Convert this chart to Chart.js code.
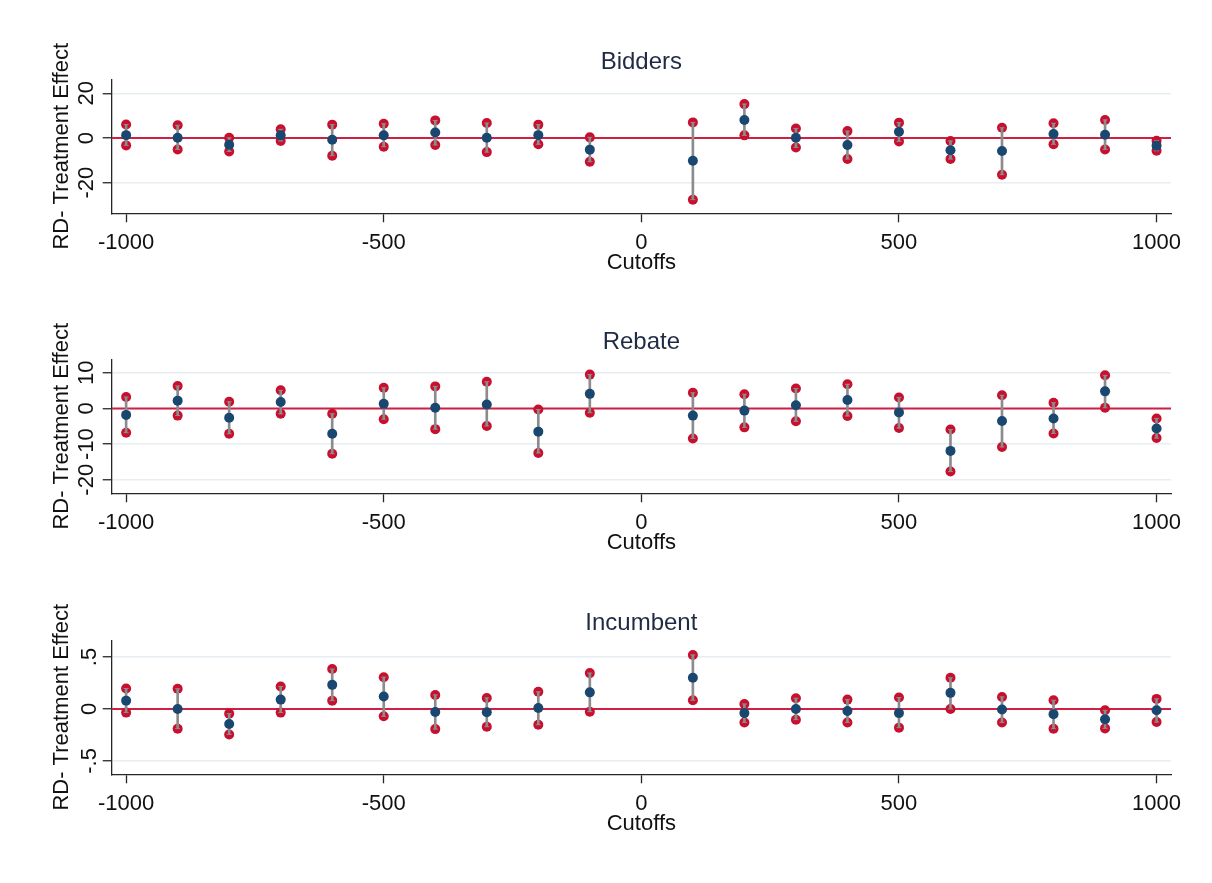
<!DOCTYPE html>
<html>
<head>
<meta charset="utf-8">
<script src="https://cdn.jsdelivr.net/npm/chart.js@4.4.0/dist/chart.umd.min.js"></script>
<style>
html, body { margin: 0; padding: 0; background: #fff; }
.panel { position: absolute; left: 0; width: 1212px; height: 280px; }
</style>
</head>
<body>
<div class="panel" style="top:0px"><canvas id="bidders" width="1212" height="280"></canvas></div>
<div class="panel" style="top:280px"><canvas id="rebate" width="1212" height="280"></canvas></div>
<div class="panel" style="top:561px"><canvas id="incumbent" width="1212" height="280"></canvas></div>
<script>
const cutoffs = [-1000, -900, -800, -700, -600, -500, -400, -300, -200, -100,
	100, 200, 300, 400, 500, 600, 700, 800, 900, 1000];
const xTicks = [-1000, -500, 0, 500, 1000];
const xTickLabels = ['-1000', '-500', '0', '500', '1000'];

// Bidders
const biddersEst = [1.3, 0.1, -3.0, 1.2, -0.8, 1.2, 2.5, 0.1, 1.3, -5.2,
	-10.2, 8.1, 0.1, -3.1, 2.8, -5.5, -5.8, 1.8, 1.5, -3.4];
const biddersLo = [-3.3, -5.1, -6.0, -1.3, -7.9, -3.9, -3.1, -6.3, -2.8, -10.6,
	-27.6, 1.2, -4.2, -9.4, -1.5, -9.4, -16.4, -2.8, -5.1, -5.7];
const biddersHi = [6.1, 5.7, 0.1, 3.9, 6.0, 6.4, 7.9, 6.7, 6.0, 0.3,
	7.0, 15.2, 4.3, 3.1, 6.9, -1.3, 4.6, 6.6, 8.1, -1.2];
const biddersTicks = [-20, 0, 20];
const biddersTickLabels = ['-20', '0', '20'];

// Rebate
const rebateEst = [-1.8, 2.2, -2.6, 1.8, -7.1, 1.3, 0.2, 1.1, -6.5, 4.1,
	-2.0, -0.6, 0.9, 2.4, -1.1, -11.9, -3.5, -2.8, 4.8, -5.6];
const rebateLo = [-6.8, -2.0, -7.1, -1.5, -12.7, -3.0, -5.8, -4.9, -12.5, -1.2,
	-8.4, -5.3, -3.6, -2.1, -5.5, -17.7, -10.8, -7.0, 0.2, -8.3];
const rebateHi = [3.2, 6.3, 1.9, 5.1, -1.5, 5.8, 6.2, 7.5, -0.3, 9.5,
	4.4, 4.0, 5.6, 6.8, 3.1, -5.9, 3.7, 1.6, 9.3, -2.8];
const rebateTicks = [-20, -10, 0, 10];
const rebateTickLabels = ['-20', '-10', '0', '10'];

// Incumbent
const incumbentEst = [0.08, 0.0, -0.145, 0.09, 0.232, 0.12, -0.03, -0.032, 0.01, 0.16,
	0.30, -0.04, 0.0, -0.02, -0.04, 0.155, -0.006, -0.05, -0.10, -0.013];
const incumbentLo = [-0.035, -0.19, -0.245, -0.035, 0.08, -0.071, -0.194, -0.171, -0.152, -0.026,
	0.084, -0.13, -0.103, -0.13, -0.18, 0.0, -0.13, -0.19, -0.187, -0.126];
const incumbentHi = [0.197, 0.194, -0.045, 0.216, 0.384, 0.306, 0.135, 0.106, 0.165, 0.345,
	0.52, 0.048, 0.103, 0.09, 0.11, 0.30, 0.116, 0.084, -0.013, 0.097];
const incumbentTicks = [-0.5, 0, 0.5];
const incumbentTickLabels = ['-.5', '0', '.5'];

const red = '#c8102e';
const navy = '#1a476f';
const gray = '#8c8c8c';
const axisColor = '#262626';
const gridColor = '#e6eef2';

Chart.defaults.font.family = '"Liberation Sans", Arial, sans-serif';

// horizontal reference line at zero, across the plot region
const zeroLine = {
	id: 'zeroLine',
	beforeDatasetsDraw( chart ) {
		const { ctx, chartArea, scales } = chart;
		const py = scales.y.getPixelForValue( 0 );
		ctx.save();
		ctx.strokeStyle = '#cf1f45';
		ctx.lineWidth = 2;
		ctx.beginPath();
		ctx.moveTo( chartArea.left, py );
		ctx.lineTo( chartArea.right, py );
		ctx.stroke();
		ctx.restore();
	},
};

function makePanel( id, title, est, lo, hi, yMin, yMax, yTicks, yTickLabels ) {
	const pts = ( vals ) => cutoffs.map( ( c, i ) => ( { x: c, y: vals[ i ] } ) );
	const ends = pts( lo ).concat( pts( hi ) );

	return new Chart( document.getElementById( id ), {
		type: 'scatter',
		data: {
			datasets: [
				{
					type: 'bar',
					data: cutoffs.map( ( c, i ) => ( { x: c, y: [ lo[ i ], hi[ i ] ] } ) ),
					backgroundColor: gray,
					barThickness: 2,
					order: 1,
				},
				{
					data: ends,
					pointRadius: 5,
					pointBackgroundColor: red,
					pointBorderWidth: 0,
					order: 2,
				},
				{
					data: ends,
					pointStyle: 'line',
					pointRadius: 2.5,
					pointBorderColor: gray,
					pointBorderWidth: 1,
					order: 1,
				},
				{
					data: pts( est ),
					pointRadius: 5,
					pointBackgroundColor: navy,
					pointBorderWidth: 0,
					order: 0,
				},
			],
		},
		options: {
			responsive: false,
			animation: false,
			layout: { padding: { left: 49, right: 41, top: 0, bottom: 0 } },
			plugins: {
				legend: { display: false },
				tooltip: { enabled: false },
				title: {
					display: true,
					fullSize: false,
					text: title,
					color: '#1f2b45',
					font: { size: 24, weight: 'normal' },
					padding: { top: 48, bottom: 2.5 },
				},
			},
			scales: {
				x: {
					type: 'linear',
					min: -1028,
					max: 1028,
					offset: false,
					afterBuildTicks: ( s ) => {
						s.ticks = xTicks.map( ( v ) => ( { value: v } ) );
					},
					afterFit: ( s ) => {
						s.height = 66.7;
					},
					grid: {
						offset: false,
						drawOnChartArea: false,
						tickLength: 9,
						tickColor: axisColor,
						tickWidth: 1.3,
					},
					border: { display: true, color: axisColor, width: 1.3 },
					ticks: {
						color: '#111',
						font: { size: 22 },
						padding: 7,
						maxRotation: 0,
						callback: ( v, i ) => xTickLabels[ i ],
					},
					title: {
						display: true,
						text: 'Cutoffs',
						color: '#111',
						font: { size: 22, lineHeight: 1 },
						padding: { top: 0, bottom: 6 },
					},
				},
				y: {
					type: 'linear',
					min: yMin,
					max: yMax,
					afterBuildTicks: ( s ) => {
						s.ticks = yTicks.map( ( v ) => ( { value: v } ) );
					},
					afterFit: ( s ) => {
						s.width = 62.7;
						s.paddingTop = 0;
						s.paddingBottom = 0;
					},
					grid: {
						color: gridColor,
						lineWidth: 1.5,
						tickLength: 9,
						tickColor: axisColor,
						tickWidth: 1.3,
					},
					border: { display: true, color: axisColor, width: 1.3 },
					ticks: {
						color: '#111',
						font: { size: 22 },
						padding: 0,
						minRotation: 90,
						maxRotation: 90,
						crossAlign: 'center',
						callback: ( v, i ) => yTickLabels[ i ],
					},
					title: {
						display: true,
						text: 'RD- Treatment Effect',
						color: '#111',
						font: { size: 22, lineHeight: 1 },
						padding: { top: 2, bottom: 0 },
					},
				},
			},
		},
		plugins: [ zeroLine ],
	} );
}

makePanel( 'bidders', 'Bidders', biddersEst, biddersLo, biddersHi,
	-33.7, 26.3, biddersTicks, biddersTickLabels );
makePanel( 'rebate', 'Rebate', rebateEst, rebateLo, rebateHi,
	-23.8, 13.8, rebateTicks, rebateTickLabels );
makePanel( 'incumbent', 'Incumbent', incumbentEst, incumbentLo, incumbentHi,
	-0.629, 0.661, incumbentTicks, incumbentTickLabels );
</script>
</body>
</html>
